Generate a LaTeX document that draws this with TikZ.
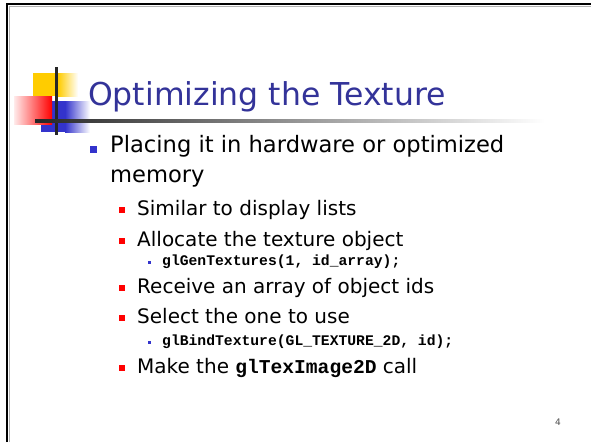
\documentclass[tikz,border=0pt]{standalone}
\usepackage{fontspec}
\setmainfont{DejaVu Sans}
\newfontfamily\codefont{Liberation Mono}
\usetikzlibrary{positioning}

\definecolor{slideblue}{HTML}{333399}
\definecolor{bulletblue}{HTML}{3333CC}
\definecolor{logoyellow}{HTML}{FFCC00}

\begin{document}
\begin{tikzpicture}[
  x=1pt, y=-1pt,
  txt/.style={anchor=base west, inner sep=0pt},
  titletext/.style={txt, text=slideblue, font=\fontsize{31.5}{32}\selectfont},
  lvlone/.style={txt, font=\fontsize{22.6}{24}\selectfont},
  lvltwo/.style={txt, font=\fontsize{20}{22}\selectfont},
  codeline/.style={txt, font=\codefont\bfseries\fontsize{14.7}{16}\selectfont},
  bulletone/.style={fill=bulletblue, inner sep=0pt, minimum size=7pt},
  bullettwo/.style={fill=red, inner sep=0pt, minimum size=6pt},
  bulletthree/.style={fill=bulletblue, inner sep=0pt, minimum size=3pt}
]
  \useasboundingbox (0,0) rectangle (591,442);
  \fill[white] (0,0) rectangle (591,442);

  % slide frame, top and left edge
  \draw[gray!60, line width=1pt] (9,442) -- (9,6) -- (591,6);
  \draw[black, line width=2pt] (7,442) -- (7,4) -- (591,4);

  % logo
  \fill[logoyellow] (33,73) rectangle (58,96);
  \shade[left color=logoyellow, right color=white] (58,73) rectangle (78,96);
  \fill[bulletblue] (41,101) rectangle (65,132);
  \shade[left color=bulletblue, right color=white] (65,101) rectangle (90,132);
  \shade[left color=red!8, right color=red] (14,96) rectangle (52,124);
  \fill[black!85] (55,67) rectangle (58,135);
  \shade[left color=black!85, right color=white] (35,119) rectangle (545,122);

  % title
  \node[titletext] (title) at (88,105) {Optimizing the Texture};

  % first level
  \node[bulletone] (b1) at (93,149) {};
  \node[lvlone] (placing) at (110,152) {Placing it in hardware or optimized};
  \node[lvlone] (memory) at (110,182) {memory};

  % second level
  \node[bullettwo] (b2a) at (121.5,210) {};
  \node[lvltwo] (similar) at (137,215) {Similar to display lists};
  \node[bullettwo] (b2b) at (121.5,241) {};
  \node[lvltwo] (allocate) at (137,246) {Allocate the texture object};
  \node[bulletthree] (b3a) at (149.5,262) {};
  \node[codeline] (gen) at (162,265) {glGenTextures(1, id\_array);};
  \node[bullettwo] (b2c) at (121.5,288) {};
  \node[lvltwo] (receive) at (137,293) {Receive an array of object ids};
  \node[bullettwo] (b2d) at (121.5,318) {};
  \node[lvltwo] (select) at (137,323) {Select the one to use};
  \node[bulletthree] (b3b) at (149.5,342) {};
  \node[codeline] (bind) at (162,345) {glBindTexture(GL\_TEXTURE\_2D, id);};
  \node[bullettwo] (b2e) at (121.5,368) {};
  \node[lvltwo] (make) at (137,373) {Make the {\codefont\bfseries\fontsize{19.6}{20}\selectfont glTexImage2D} call};

  % page number
  \node[txt, text=black!70, font=\fontsize{9}{10}\selectfont] (pagenum) at (555,425) {4};
\end{tikzpicture}
\end{document}
